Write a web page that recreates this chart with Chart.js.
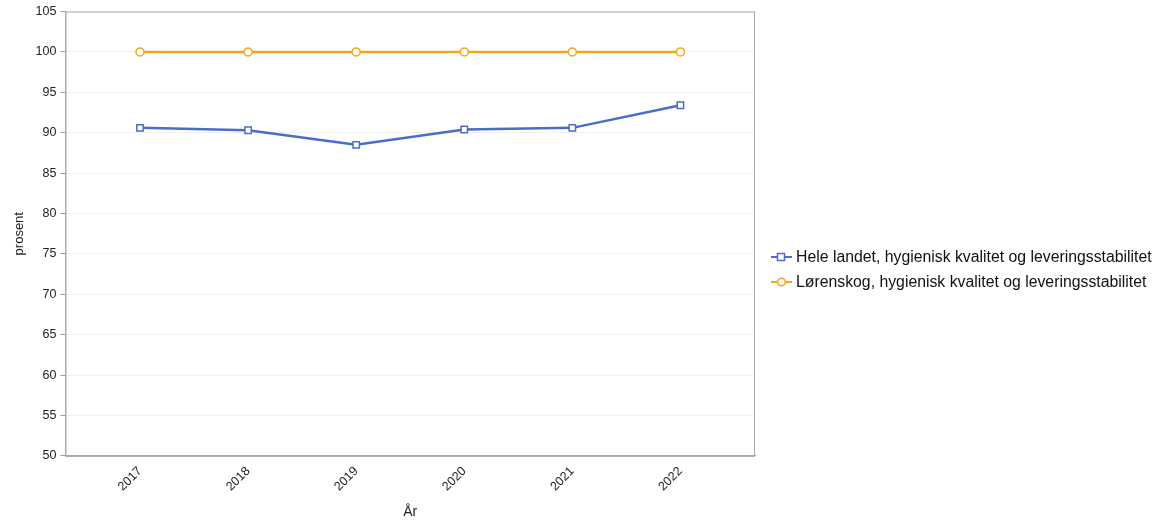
<!DOCTYPE html>
<html>
<head>
<meta charset="utf-8">
<script src="https://cdn.jsdelivr.net/npm/chart.js@4/dist/chart.umd.min.js"></script>
<style>
  html, body { margin: 0; padding: 0; background: #fff; }
  #wrap { width: 1173px; height: 523px; }
</style>
</head>
<body>
<div id="wrap"><canvas id="chart" width="1173" height="523"></canvas></div>
<script>
const years = [2017, 2018, 2019, 2020, 2021, 2022];
const heleLandet = [90.6, 90.3, 88.5, 90.4, 90.6, 93.4];
const lorenskog = [100, 100, 100, 100, 100, 100];
const seriesNames = [
  'Hele landet, hygienisk kvalitet og leveringsstabilitet',
  'Lørenskog, hygienisk kvalitet og leveringsstabilitet'
];
const yTicks = [50, 55, 60, 65, 70, 75, 80, 85, 90, 95, 100, 105];

const BLUE = '#4a6ccb';
const ORANGE = '#f3a61c';
const FONT = 'Liberation Sans, Arial, sans-serif';

// plot frame (top and right sides too)
const frame = {
  id: 'frame',
  afterDraw(chart) {
    const { ctx, chartArea: a } = chart;
    ctx.save();
    ctx.strokeStyle = '#aaa';
    ctx.lineWidth = 1;
    ctx.strokeRect(a.left + 0.5, a.top + 0.5, a.right - a.left - 1, a.bottom - a.top);
    ctx.restore();
  }
};

// legend to the right: line + marker + text, drawn by hand because the
// built-in one gets squeezed when it sits on the right
const sideLegend = {
  id: 'sideLegend',
  afterDraw(chart) {
    const { ctx } = chart;
    const x0 = chart.chartArea.right + 16;
    const rows = [257, 282];
    ctx.save();
    chart.data.datasets.forEach((d, i) => {
      const y = rows[i];
      ctx.strokeStyle = d.borderColor;
      ctx.lineWidth = 2;
      ctx.beginPath(); ctx.moveTo(x0, y); ctx.lineTo(x0 + 21, y); ctx.stroke();
      ctx.fillStyle = '#fff';
      ctx.lineWidth = 1.5;
      ctx.beginPath();
      if (d.pointStyle === 'rect') ctx.rect(x0 + 6.5, y - 3.5, 7, 7);
      else ctx.arc(x0 + 10.5, y, 3.8, 0, Math.PI * 2);
      ctx.fill(); ctx.stroke();
      ctx.fillStyle = '#111';
      ctx.font = `15.8px ${FONT}`;
      ctx.textBaseline = 'middle';
      ctx.fillText(d.label, x0 + 25, y + 0.5);
    });
    ctx.restore();
  }
};

const mk = (vals) => vals.map((v, i) => ({ x: years[i], y: v }));

new Chart(document.getElementById('chart'), {
  type: 'line',
  data: {
    datasets: [
      {
        label: seriesNames[0], data: mk(heleLandet),
        borderColor: BLUE, backgroundColor: '#fff', borderWidth: 2.5,
        pointStyle: 'rect', pointRadius: 4.5, pointBorderWidth: 1.5,
        pointBackgroundColor: '#fff', pointBorderColor: BLUE, tension: 0
      },
      {
        label: seriesNames[1], data: mk(lorenskog),
        borderColor: ORANGE, backgroundColor: '#fff', borderWidth: 2.5,
        pointStyle: 'circle', pointRadius: 4, pointBorderWidth: 1.5,
        pointBackgroundColor: '#fff', pointBorderColor: ORANGE, tension: 0
      }
    ]
  },
  options: {
    responsive: false,
    animation: false,
    layout: { padding: { top: 4, right: 418, left: 8, bottom: 2 } },
    plugins: {
      tooltip: { enabled: false },
      legend: { display: false }
    },
    scales: {
      x: {
        type: 'linear',
        min: years[0] - 0.69,
        max: years[years.length - 1] + 0.69,
        afterBuildTicks(scale) { scale.ticks = years.map((v) => ({ value: v })); },
        grid: { display: false },
        border: { color: '#aaa' },
        ticks: {
          maxRotation: 45, minRotation: 45, padding: 0,
          color: '#222', font: { family: FONT, size: 12.5 },
          callback: (v) => String(v)
        },
        title: {
          display: true, text: 'År', color: '#222',
          font: { family: FONT, size: 14 }, padding: { top: 10, bottom: 0 }
        }
      },
      y: {
        min: 50, max: 105,
        afterBuildTicks(scale) { scale.ticks = yTicks.map((v) => ({ value: v })); },
        grid: { color: '#f0f0f0', tickColor: '#999', tickLength: 5 },
        border: { color: '#aaa' },
        ticks: {
          padding: 4, color: '#222',
          font: { family: FONT, size: 12.5 }
        },
        title: {
          display: true, text: 'prosent', color: '#222',
          font: { family: FONT, size: 13 }, padding: { top: 4, bottom: 4 }
        }
      }
    }
  },
  plugins: [frame, sideLegend]
});
</script>
</body>
</html>
